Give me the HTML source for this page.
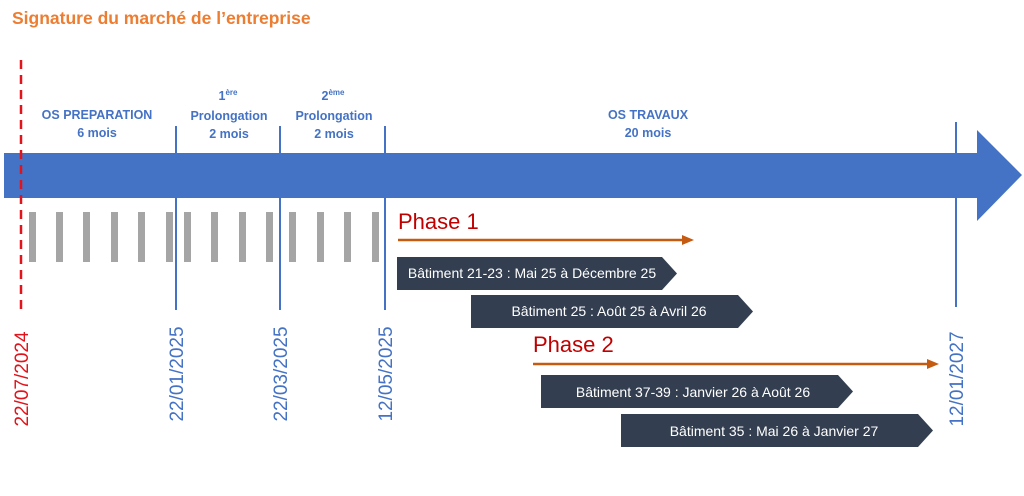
<!DOCTYPE html>
<html><head><meta charset="utf-8"><style>
html,body{margin:0;padding:0;background:#fff;}
svg{display:block;font-family:"Liberation Sans",sans-serif;}
</style></head><body>
<svg width="1024" height="496" viewBox="0 0 1024 496" xmlns="http://www.w3.org/2000/svg">
<text x="12" y="24" font-size="17.5" font-weight="bold" fill="#ED7D31">Signature du marché de l’entreprise</text>
<polygon points="4,153 977,153 977,130 1022,175 977,221 977,198 4,198" fill="#4472C4"/>
<g stroke="#4472C4" stroke-width="2">
<line x1="176" y1="126" x2="176" y2="310"/>
<line x1="280" y1="126" x2="280" y2="310"/>
<line x1="385" y1="126" x2="385" y2="310"/>
<line x1="956" y1="122" x2="956" y2="307"/>
</g>
<line x1="21" y1="60" x2="21" y2="310" stroke="#E3131B" stroke-width="2.5" stroke-dasharray="9,6"/>
<g fill="#A5A5A5">
<rect x="29" y="212" width="7" height="50"/><rect x="56" y="212" width="7" height="50"/><rect x="83" y="212" width="7" height="50"/><rect x="111" y="212" width="7" height="50"/><rect x="138" y="212" width="7" height="50"/><rect x="166" y="212" width="7" height="50"/>
<rect x="184" y="212" width="7" height="50"/><rect x="211" y="212" width="7" height="50"/><rect x="239" y="212" width="7" height="50"/><rect x="266" y="212" width="7" height="50"/>
<rect x="289" y="212" width="7" height="50"/><rect x="317" y="212" width="7" height="50"/><rect x="344" y="212" width="7" height="50"/><rect x="372" y="212" width="7" height="50"/>
</g>
<g fill="#4472C4" font-weight="bold" font-size="12.5" text-anchor="middle">
<text x="97" y="119">OS PREPARATION</text><text x="97" y="137">6 mois</text>
<text x="228" y="100">1<tspan font-size="8" dy="-5">ère</tspan></text>
<text x="229" y="120">Prolongation</text><text x="229" y="138">2 mois</text>
<text x="333" y="100">2<tspan font-size="8" dy="-5">ème</tspan></text>
<text x="334" y="120">Prolongation</text><text x="334" y="138">2 mois</text>
<text x="648" y="119">OS TRAVAUX</text><text x="648" y="137">20 mois</text>
</g>
<g font-size="19" text-anchor="middle">
<text transform="translate(28,379) rotate(-90)" fill="#E3131B">22/07/2024</text>
<text transform="translate(183,374) rotate(-90)" fill="#4472C4">22/01/2025</text>
<text transform="translate(287,374) rotate(-90)" fill="#4472C4">22/03/2025</text>
<text transform="translate(392,374) rotate(-90)" fill="#4472C4">12/05/2025</text>
<text transform="translate(963,379) rotate(-90)" fill="#4472C4">12/01/2027</text>
</g>
<text x="398" y="229" font-size="22" fill="#C00000">Phase 1</text>
<line x1="398" y1="240" x2="684" y2="240" stroke="#C55A11" stroke-width="2.5"/>
<polygon points="682,235 694,240 682,245" fill="#C55A11"/>
<text x="533" y="352" font-size="22" fill="#C00000">Phase 2</text>
<line x1="533" y1="364" x2="929" y2="364" stroke="#C55A11" stroke-width="2.5"/>
<polygon points="927,359 939,364 927,369" fill="#C55A11"/>
<g fill="#333F50">
<polygon points="397,257 662,257 677,273.5 662,290 397,290"/>
<polygon points="471,295 738,295 753,311.5 738,328 471,328"/>
<polygon points="541,375 838,375 853,391.5 838,408 541,408"/>
<polygon points="621,414 918,414 933,430.5 918,447 621,447"/>
</g>
<g fill="#fff" font-size="14" text-anchor="middle">
<text x="532" y="278">Bâtiment 21-23 : Mai 25 à Décembre 25</text>
<text x="609" y="316">Bâtiment 25 : Août 25 à Avril 26</text>
<text x="693" y="397">Bâtiment 37-39 : Janvier 26 à Août 26</text>
<text x="774" y="436">Bâtiment 35 : Mai 26 à Janvier 27</text>
</g>
</svg>
</body></html>
